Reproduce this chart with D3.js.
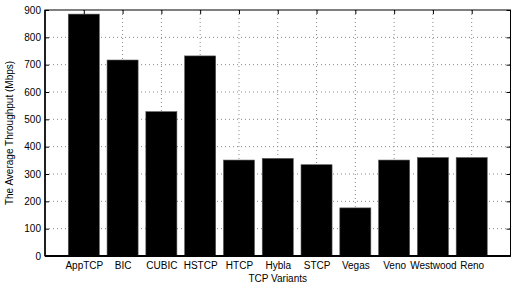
<!DOCTYPE html>
<html lang="en">
<head>
<meta charset="UTF-8">
<title>TCP Variants Throughput</title>
<script src="https://d3js.org/d3.v7.min.js"></script>
<style>
    body { margin: 0; background: white; }
    svg { display: block; font-family: "Liberation Sans", Arial, sans-serif; }
    .grid line { stroke: #888; stroke-dasharray: 1,3; stroke-width: 1; }
</style>
</head>
<body>
<script>
    // Data
    const variants = ["AppTCP", "BIC", "CUBIC", "HSTCP", "HTCP", "Hybla", "STCP", "Vegas", "Veno", "Westwood", "Reno"];
    const throughput = [885, 717, 528, 732, 351, 357, 334, 176, 351, 360, 360];
    const yTicks = [0, 100, 200, 300, 400, 500, 600, 700, 800, 900];

    const W = 512, H = 286;
    const margin = {top: 10, right: 1.5, bottom: 30, left: 45};
    const width = W - margin.left - margin.right;
    const height = H - margin.top - margin.bottom;

    const svg = d3.select("body").append("svg")
        .attr("width", W)
        .attr("height", H);
    const g = svg.append("g")
        .attr("transform", `translate(${margin.left},${margin.top})`);

    // MATLAB-style bar positions 1..n on [0, n+1]
    const x = d3.scaleLinear().domain([0, variants.length + 1]).range([0, width]);
    const y = d3.scaleLinear().domain([0, 900]).range([height, 0]);
    const bw = 0.8 * (x(1) - x(0));

    // grid
    const grid = g.append("g").attr("class", "grid");
    grid.selectAll(".gy")
        .data(yTicks.slice(1, -1))
        .enter().append("line")
        .attr("x1", 0).attr("x2", width)
        .attr("y1", d => y(d)).attr("y2", d => y(d));
    grid.selectAll(".gx")
        .data(variants)
        .enter().append("line")
        .attr("x1", (d, i) => x(i + 1)).attr("x2", (d, i) => x(i + 1))
        .attr("y1", 0).attr("y2", height);

    // bars
    g.selectAll(".bar")
        .data(throughput)
        .enter().append("rect")
        .attr("x", (d, i) => x(i + 1) - bw / 2)
        .attr("width", bw)
        .attr("y", d => y(d))
        .attr("height", d => height - y(d))
        .attr("fill", "black")
        .attr("stroke", "#555")
        .attr("stroke-width", 0.6);

    // axes
    const yAxis = g.append("g")
        .call(d3.axisLeft(y).tickValues(yTicks).tickSize(-4).tickPadding(4));
    yAxis.select(".domain").remove();
    yAxis.selectAll("text").attr("font-size", 10).attr("fill", "black");

    const yRight = g.append("g")
        .attr("transform", `translate(${width},0)`)
        .call(d3.axisRight(y).tickValues(yTicks).tickSize(-4).tickFormat(""));
    yRight.select(".domain").remove();

    const xAxis = g.append("g")
        .attr("transform", `translate(0,${height})`)
        .call(d3.axisBottom(x).tickValues(d3.range(1, variants.length + 1))
            .tickSize(-4).tickPadding(6).tickFormat(d => variants[d - 1]));
    xAxis.select(".domain").remove();
    xAxis.selectAll("text").attr("font-size", 10).attr("fill", "black");

    const xTop = g.append("g")
        .call(d3.axisTop(x).tickValues(d3.range(1, variants.length + 1)).tickSize(-4).tickFormat(""));
    xTop.select(".domain").remove();

    // box
    g.append("rect")
        .attr("width", width).attr("height", height)
        .attr("fill", "none").attr("stroke", "black").attr("stroke-width", 1);
    g.append("line")
        .attr("x1", 0).attr("x2", width).attr("y1", height).attr("y2", height)
        .attr("stroke", "black").attr("stroke-width", 2);
    g.append("line")
        .attr("x1", 0).attr("x2", 0).attr("y1", 0).attr("y2", height)
        .attr("stroke", "black").attr("stroke-width", 1.5);

    // labels
    svg.append("text")
        .attr("x", margin.left + width / 2)
        .attr("y", 282)
        .attr("text-anchor", "middle")
        .attr("font-size", 10)
        .text("TCP Variants");

    svg.append("text")
        .attr("transform", `translate(13,${margin.top + height / 2}) rotate(-90)`)
        .attr("text-anchor", "middle")
        .attr("font-size", 10)
        .text("The Average Throughput (Mbps)");
</script>
</body>
</html>
